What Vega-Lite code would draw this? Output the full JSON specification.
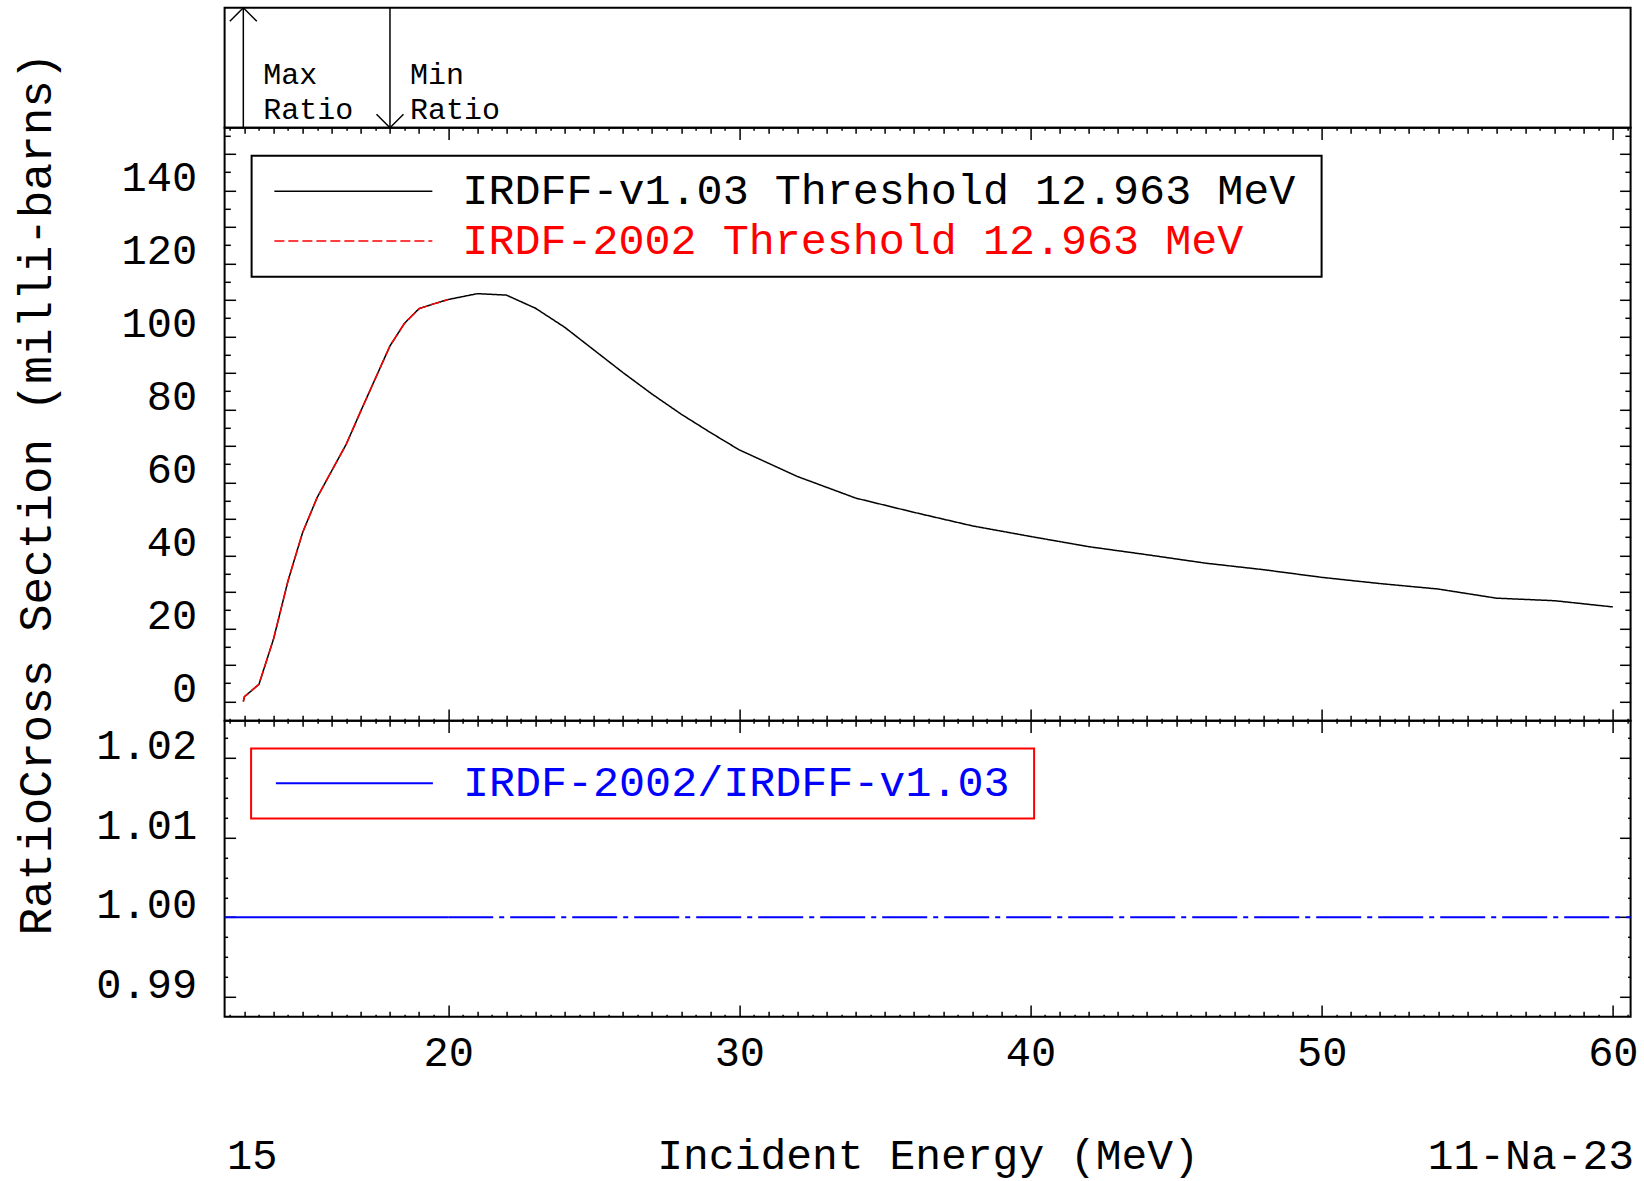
{
  "$schema": "https://vega.github.io/schema/vega-lite/v6.json",
  "padding": {"left": 11.6, "top": 3.8, "right": 10, "bottom": 12},
  "background": "white",
  "config": {
    "view": {"stroke": "black", "strokeWidth": 2},
    "font": "Liberation Mono",
    "axis": {"labelFont": "Liberation Mono", "titleFont": "Liberation Mono", "labelColor": "black", "titleColor": "black", "titleFontWeight": "normal", "grid": false, "tickColor": "black", "tickWidth": 1.5, "labelFlush": false, "labelOverlap": false},
    "legend": {"labelFont": "Liberation Mono", "strokeWidth": 2}
  },
  "datasets": {
    "arrows": [
      {"E": 12.963, "label": "Max\nRatio", "tip": "up"},
      {"E": 18, "label": "Min\nRatio", "tip": "down"}
    ],
    "irdff": [
      {"E": 12.963, "xs": 0, "series": "IRDFF-v1.03 Threshold 12.963 MeV"},
      {"E": 13.0, "xs": 1.3, "series": "IRDFF-v1.03 Threshold 12.963 MeV"},
      {"E": 13.5, "xs": 4.7, "series": "IRDFF-v1.03 Threshold 12.963 MeV"},
      {"E": 14.0, "xs": 17.1, "series": "IRDFF-v1.03 Threshold 12.963 MeV"},
      {"E": 14.5, "xs": 33.1, "series": "IRDFF-v1.03 Threshold 12.963 MeV"},
      {"E": 15.0, "xs": 46.3, "series": "IRDFF-v1.03 Threshold 12.963 MeV"},
      {"E": 15.5, "xs": 55.9, "series": "IRDFF-v1.03 Threshold 12.963 MeV"},
      {"E": 16.0, "xs": 63.2, "series": "IRDFF-v1.03 Threshold 12.963 MeV"},
      {"E": 16.5, "xs": 70.5, "series": "IRDFF-v1.03 Threshold 12.963 MeV"},
      {"E": 17.0, "xs": 79.6, "series": "IRDFF-v1.03 Threshold 12.963 MeV"},
      {"E": 17.5, "xs": 88.5, "series": "IRDFF-v1.03 Threshold 12.963 MeV"},
      {"E": 18.0, "xs": 97.4, "series": "IRDFF-v1.03 Threshold 12.963 MeV"},
      {"E": 18.5, "xs": 103.6, "series": "IRDFF-v1.03 Threshold 12.963 MeV"},
      {"E": 19.0, "xs": 107.6, "series": "IRDFF-v1.03 Threshold 12.963 MeV"},
      {"E": 19.5, "xs": 108.9, "series": "IRDFF-v1.03 Threshold 12.963 MeV"},
      {"E": 20.0, "xs": 110.1, "series": "IRDFF-v1.03 Threshold 12.963 MeV"},
      {"E": 21.0, "xs": 111.7, "series": "IRDFF-v1.03 Threshold 12.963 MeV"},
      {"E": 22.0, "xs": 111.3, "series": "IRDFF-v1.03 Threshold 12.963 MeV"},
      {"E": 23.0, "xs": 107.7, "series": "IRDFF-v1.03 Threshold 12.963 MeV"},
      {"E": 24.0, "xs": 102.5, "series": "IRDFF-v1.03 Threshold 12.963 MeV"},
      {"E": 25.0, "xs": 96.3, "series": "IRDFF-v1.03 Threshold 12.963 MeV"},
      {"E": 26.0, "xs": 90.1, "series": "IRDFF-v1.03 Threshold 12.963 MeV"},
      {"E": 27.0, "xs": 84.2, "series": "IRDFF-v1.03 Threshold 12.963 MeV"},
      {"E": 28.0, "xs": 78.7, "series": "IRDFF-v1.03 Threshold 12.963 MeV"},
      {"E": 29.0, "xs": 73.7, "series": "IRDFF-v1.03 Threshold 12.963 MeV"},
      {"E": 30.0, "xs": 68.9, "series": "IRDFF-v1.03 Threshold 12.963 MeV"},
      {"E": 32.0, "xs": 61.6, "series": "IRDFF-v1.03 Threshold 12.963 MeV"},
      {"E": 34.0, "xs": 55.7, "series": "IRDFF-v1.03 Threshold 12.963 MeV"},
      {"E": 36.0, "xs": 51.8, "series": "IRDFF-v1.03 Threshold 12.963 MeV"},
      {"E": 38.0, "xs": 48.1, "series": "IRDFF-v1.03 Threshold 12.963 MeV"},
      {"E": 40.0, "xs": 45.2, "series": "IRDFF-v1.03 Threshold 12.963 MeV"},
      {"E": 42.0, "xs": 42.4, "series": "IRDFF-v1.03 Threshold 12.963 MeV"},
      {"E": 44.0, "xs": 40.2, "series": "IRDFF-v1.03 Threshold 12.963 MeV"},
      {"E": 46.0, "xs": 37.9, "series": "IRDFF-v1.03 Threshold 12.963 MeV"},
      {"E": 48.0, "xs": 36.1, "series": "IRDFF-v1.03 Threshold 12.963 MeV"},
      {"E": 50.0, "xs": 34.0, "series": "IRDFF-v1.03 Threshold 12.963 MeV"},
      {"E": 52.0, "xs": 32.3, "series": "IRDFF-v1.03 Threshold 12.963 MeV"},
      {"E": 54.0, "xs": 30.8, "series": "IRDFF-v1.03 Threshold 12.963 MeV"},
      {"E": 56.0, "xs": 28.3, "series": "IRDFF-v1.03 Threshold 12.963 MeV"},
      {"E": 58.0, "xs": 27.6, "series": "IRDFF-v1.03 Threshold 12.963 MeV"},
      {"E": 60.0, "xs": 25.9, "series": "IRDFF-v1.03 Threshold 12.963 MeV"}
    ],
    "irdf2002": [
      {"E": 12.963, "xs": 0, "series": "IRDF-2002 Threshold 12.963 MeV"},
      {"E": 13.0, "xs": 1.3, "series": "IRDF-2002 Threshold 12.963 MeV"},
      {"E": 13.5, "xs": 4.7, "series": "IRDF-2002 Threshold 12.963 MeV"},
      {"E": 14.0, "xs": 17.1, "series": "IRDF-2002 Threshold 12.963 MeV"},
      {"E": 14.5, "xs": 33.1, "series": "IRDF-2002 Threshold 12.963 MeV"},
      {"E": 15.0, "xs": 46.3, "series": "IRDF-2002 Threshold 12.963 MeV"},
      {"E": 15.5, "xs": 55.9, "series": "IRDF-2002 Threshold 12.963 MeV"},
      {"E": 16.0, "xs": 63.2, "series": "IRDF-2002 Threshold 12.963 MeV"},
      {"E": 16.5, "xs": 70.5, "series": "IRDF-2002 Threshold 12.963 MeV"},
      {"E": 17.0, "xs": 79.6, "series": "IRDF-2002 Threshold 12.963 MeV"},
      {"E": 17.5, "xs": 88.5, "series": "IRDF-2002 Threshold 12.963 MeV"},
      {"E": 18.0, "xs": 97.4, "series": "IRDF-2002 Threshold 12.963 MeV"},
      {"E": 18.5, "xs": 103.6, "series": "IRDF-2002 Threshold 12.963 MeV"},
      {"E": 19.0, "xs": 107.6, "series": "IRDF-2002 Threshold 12.963 MeV"},
      {"E": 19.5, "xs": 108.9, "series": "IRDF-2002 Threshold 12.963 MeV"},
      {"E": 20.0, "xs": 110.1, "series": "IRDF-2002 Threshold 12.963 MeV"}
    ],
    "ratio1": [
      {"E": 12.32, "r": 1.0, "series": "IRDF-2002/IRDFF-v1.03"},
      {"E": 20.0, "r": 1.0, "series": "IRDF-2002/IRDFF-v1.03"}
    ],
    "ratio2": [
      {"E": 20.0, "r": 1.0, "series": "IRDF-2002/IRDFF-v1.03"},
      {"E": 60.61, "r": 1.0, "series": "IRDF-2002/IRDFF-v1.03"}
    ]
  },
  "spacing": 0,
  "bounds": "flush",
  "resolve": {"scale": {"x": "independent", "y": "independent", "color": "independent", "strokeDash": "independent"}},
  "vconcat": [
    {
      "width": 1406,
      "height": 120,
      "data": {"name": "arrows"},
      "layer": [
        {
          "mark": {"type": "rule", "color": "black", "strokeWidth": 1.5},
          "encoding": {
            "x": {"field": "E", "type": "quantitative", "scale": {"domain": [12.32, 60.61], "nice": false, "zero": false}, "axis": null},
            "y": {"datum": 0, "type": "quantitative", "scale": {"domain": [0, 1], "nice": false, "zero": false}, "axis": null},
            "y2": {"datum": 1}
          }
        },
        {
          "transform": [{"filter": "datum.tip == 'up'"}],
          "mark": {"type": "point", "shape": "M-1,1L0,0L1,1", "filled": false, "size": 729, "color": "black", "strokeWidth": 1.5, "opacity": 1},
          "encoding": {
            "x": {"field": "E", "type": "quantitative", "axis": null},
            "y": {"datum": 1, "type": "quantitative"}
          }
        },
        {
          "transform": [{"filter": "datum.tip == 'down'"}],
          "mark": {"type": "point", "shape": "M-1,-1L0,0L1,-1", "filled": false, "size": 729, "color": "black", "strokeWidth": 1.5, "opacity": 1},
          "encoding": {
            "x": {"field": "E", "type": "quantitative", "axis": null},
            "y": {"datum": 0, "type": "quantitative"}
          }
        },
        {
          "mark": {"type": "text", "align": "left", "baseline": "alphabetic", "dx": 20, "dy": -44.3, "font": "Liberation Mono", "fontSize": 30, "lineHeight": 35.3, "lineBreak": "\n", "color": "black"},
          "encoding": {
            "x": {"field": "E", "type": "quantitative", "axis": null},
            "y": {"datum": 0, "type": "quantitative"},
            "text": {"field": "label", "type": "nominal"}
          }
        }
      ]
    },
    {
      "width": 1406,
      "height": 593,
      "resolve": {"axis": {"x": "independent", "y": "independent"}},
      "layer": [
        {
          "data": {"name": "irdff"},
          "mark": {"type": "line", "strokeWidth": 1.5},
          "encoding": {
            "x": {"field": "E", "type": "quantitative", "scale": {"domain": [12.32, 60.61], "nice": false, "zero": false},
              "axis": {"orient": "bottom", "title": null, "labels": false, "domain": false, "values": [12.5,13,13.5,14,14.5,15,15.5,16,16.5,17,17.5,18,18.5,19,19.5,20,20.5,21,21.5,22,22.5,23,23.5,24,24.5,25,25.5,26,26.5,27,27.5,28,28.5,29,29.5,30,30.5,31,31.5,32,32.5,33,33.5,34,34.5,35,35.5,36,36.5,37,37.5,38,38.5,39,39.5,40,40.5,41,41.5,42,42.5,43,43.5,44,44.5,45,45.5,46,46.5,47,47.5,48,48.5,49,49.5,50,50.5,51,51.5,52,52.5,53,53.5,54,54.5,55,55.5,56,56.5,57,57.5,58,58.5,59,59.5,60,60.5],
                "tickSize": {"condition": [{"test": "datum.value % 10 == 0", "value": -11.7}, {"test": "datum.value % 1 == 0", "value": -5.5}], "value": -2.5}}},
            "y": {"field": "xs", "type": "quantitative", "scale": {"domain": [-5.29, 157.13], "nice": false, "zero": false},
              "axis": {"orient": "left", "title": null, "labels": false, "domain": false, "values": [0,5,10,15,20,25,30,35,40,45,50,55,60,65,70,75,80,85,90,95,100,105,110,115,120,125,130,135,140,145,150,155],
                "tickSize": {"condition": {"test": "datum.value % 10 == 0", "value": -11}, "value": -5.7}}},
            "color": {"field": "series", "type": "nominal",
              "scale": {"domain": ["IRDFF-v1.03 Threshold 12.963 MeV", "IRDF-2002 Threshold 12.963 MeV"], "range": ["#000000", "#ff0000"]},
              "legend": {"orient": "none", "legendX": 27, "legendY": 28, "title": " ", "titleOrient": "right", "titlePadding": 12, "titleFontSize": 1, "symbolType": "stroke", "symbolSize": 24964, "symbolStrokeWidth": 1.5, "symbolOffset": 7.75, "labelOffset": 29, "clipHeight": 43, "labelFont": "Liberation Mono", "labelFontSize": 43.4, "labelColor": {"expr": "datum.label == 'IRDF-2002 Threshold 12.963 MeV' ? '#ff0000' : '#000000'"}, "labelLimit": 2000, "padding": 14, "rowPadding": 5.7, "strokeColor": "black", "fillColor": "white"}},
            "strokeDash": {"field": "series", "type": "nominal",
              "scale": {"domain": ["IRDFF-v1.03 Threshold 12.963 MeV", "IRDF-2002 Threshold 12.963 MeV"], "range": [[1, 0], [10, 4]]},
              "legend": {"orient": "none", "legendX": 27, "legendY": 28, "title": " ", "titleOrient": "right", "titlePadding": 12, "titleFontSize": 1, "symbolType": "stroke", "symbolSize": 24964, "symbolStrokeWidth": 1.5, "symbolOffset": 7.75, "labelOffset": 29, "clipHeight": 43, "labelFont": "Liberation Mono", "labelFontSize": 43.4, "labelColor": {"expr": "datum.label == 'IRDF-2002 Threshold 12.963 MeV' ? '#ff0000' : '#000000'"}, "labelLimit": 2000, "padding": 14, "rowPadding": 5.7, "strokeColor": "black", "fillColor": "white"}}
          }
        },
        {
          "data": {"name": "irdf2002"},
          "mark": {"type": "line", "strokeWidth": 1.5},
          "encoding": {
            "x": {"field": "E", "type": "quantitative",
              "axis": {"orient": "top", "title": null, "labels": false, "domain": false, "values": [12.5,13,13.5,14,14.5,15,15.5,16,16.5,17,17.5,18,18.5,19,19.5,20,20.5,21,21.5,22,22.5,23,23.5,24,24.5,25,25.5,26,26.5,27,27.5,28,28.5,29,29.5,30,30.5,31,31.5,32,32.5,33,33.5,34,34.5,35,35.5,36,36.5,37,37.5,38,38.5,39,39.5,40,40.5,41,41.5,42,42.5,43,43.5,44,44.5,45,45.5,46,46.5,47,47.5,48,48.5,49,49.5,50,50.5,51,51.5,52,52.5,53,53.5,54,54.5,55,55.5,56,56.5,57,57.5,58,58.5,59,59.5,60,60.5],
                "tickSize": {"condition": [{"test": "datum.value % 10 == 0", "value": -11.7}, {"test": "datum.value % 1 == 0", "value": -5.5}], "value": -2.5}}},
            "y": {"field": "xs", "type": "quantitative",
              "axis": {"orient": "right", "title": null, "labels": false, "domain": false, "values": [0,5,10,15,20,25,30,35,40,45,50,55,60,65,70,75,80,85,90,95,100,105,110,115,120,125,130,135,140,145,150,155],
                "tickSize": {"condition": {"test": "datum.value % 10 == 0", "value": -11}, "value": -5.7}}},
            "color": {"field": "series", "type": "nominal"},
            "strokeDash": {"field": "series", "type": "nominal"}
          }
        },
        {
          "data": {"name": "irdff"},
          "mark": {"type": "point", "opacity": 0},
          "encoding": {
            "x": {"field": "E", "type": "quantitative", "axis": null},
            "y": {"field": "xs", "type": "quantitative",
              "axis": {"orient": "left", "values": [0,20,40,60,80,100,120,140], "ticks": false, "tickSize": 0, "domain": false, "labelFontSize": 42, "labelPadding": 28, "labelAlign": "right", "labelBaseline": "alphabetic", "labelOffset": 0.5,
                "title": "RatioCross Section (milli-barns)", "titleFontSize": 46, "titleAngle": 270, "titleX": -174.4, "titleY": 365.8, "titleAlign": "center", "titleBaseline": "alphabetic"}}
          }
        }
      ]
    },
    {
      "width": 1406,
      "height": 296,
      "resolve": {"axis": {"x": "independent", "y": "independent"}},
      "layer": [
        {
          "data": {"name": "ratio1"},
          "mark": {"type": "line", "strokeWidth": 2},
          "encoding": {
            "x": {"field": "E", "type": "quantitative", "scale": {"domain": [12.32, 60.61], "nice": false, "zero": false},
              "axis": {"orient": "bottom", "labels": false, "domain": false, "values": [12.5,13,13.5,14,14.5,15,15.5,16,16.5,17,17.5,18,18.5,19,19.5,20,20.5,21,21.5,22,22.5,23,23.5,24,24.5,25,25.5,26,26.5,27,27.5,28,28.5,29,29.5,30,30.5,31,31.5,32,32.5,33,33.5,34,34.5,35,35.5,36,36.5,37,37.5,38,38.5,39,39.5,40,40.5,41,41.5,42,42.5,43,43.5,44,44.5,45,45.5,46,46.5,47,47.5,48,48.5,49,49.5,50,50.5,51,51.5,52,52.5,53,53.5,54,54.5,55,55.5,56,56.5,57,57.5,58,58.5,59,59.5,60,60.5],
                "tickSize": {"condition": [{"test": "datum.value % 10 == 0", "value": -11.7}, {"test": "datum.value % 1 == 0", "value": -5.5}], "value": -2.5},
                "title": "15", "titleFontSize": 42, "titleX": 2, "titleY": 152, "titleAlign": "left", "titleBaseline": "alphabetic"}},
            "y": {"field": "r", "type": "quantitative", "scale": {"domain": [0.98749, 1.02467], "nice": false, "zero": false},
              "axis": {"orient": "left", "title": null, "labels": false, "domain": false, "values": [0.99,0.9925,0.995,0.9975,1.0,1.0025,1.005,1.0075,1.01,1.0125,1.015,1.0175,1.02,1.0225],
                "tickSize": {"condition": {"test": "abs(datum.value*100 - round(datum.value*100)) < 0.001", "value": -11}, "value": -3}}},
            "color": {"field": "series", "type": "nominal",
              "scale": {"domain": ["IRDF-2002/IRDFF-v1.03"], "range": ["#0000ff"]},
              "legend": {"orient": "none", "legendX": 26.5, "legendY": 27.7, "title": " ", "titleOrient": "right", "titlePadding": 11, "titleFontSize": 1, "symbolType": "stroke", "symbolSize": 24649, "symbolStrokeWidth": 2, "symbolOffset": 10.5, "labelOffset": 29, "clipHeight": 43, "labelFont": "Liberation Mono", "labelFontSize": 43.4, "labelColor": "#0000ff", "labelLimit": 2000, "padding": 13.3, "strokeColor": "#ff0000", "fillColor": "white"}}
          }
        },
        {
          "data": {"name": "ratio2"},
          "mark": {"type": "line", "strokeWidth": 2, "strokeDash": [45, 6, 5, 6]},
          "encoding": {
            "x": {"field": "E", "type": "quantitative",
              "axis": {"orient": "top", "labels": false, "domain": false, "values": [12.5,13,13.5,14,14.5,15,15.5,16,16.5,17,17.5,18,18.5,19,19.5,20,20.5,21,21.5,22,22.5,23,23.5,24,24.5,25,25.5,26,26.5,27,27.5,28,28.5,29,29.5,30,30.5,31,31.5,32,32.5,33,33.5,34,34.5,35,35.5,36,36.5,37,37.5,38,38.5,39,39.5,40,40.5,41,41.5,42,42.5,43,43.5,44,44.5,45,45.5,46,46.5,47,47.5,48,48.5,49,49.5,50,50.5,51,51.5,52,52.5,53,53.5,54,54.5,55,55.5,56,56.5,57,57.5,58,58.5,59,59.5,60,60.5],
                "tickSize": {"condition": [{"test": "datum.value % 10 == 0", "value": -11.7}, {"test": "datum.value % 1 == 0", "value": -5.5}], "value": -2.5},
                "title": "11-Na-23", "titleFontSize": 43, "titleX": 1409, "titleY": 448, "titleAlign": "right", "titleBaseline": "alphabetic"}},
            "y": {"field": "r", "type": "quantitative",
              "axis": {"orient": "right", "title": null, "labels": false, "domain": false, "values": [0.99,0.9925,0.995,0.9975,1.0,1.0025,1.005,1.0075,1.01,1.0125,1.015,1.0175,1.02,1.0225],
                "tickSize": {"condition": {"test": "abs(datum.value*100 - round(datum.value*100)) < 0.001", "value": -11}, "value": -3}}},
            "color": {"field": "series", "type": "nominal"}
          }
        },
        {
          "data": {"name": "ratio1"},
          "mark": {"type": "point", "opacity": 0},
          "encoding": {
            "x": {"field": "E", "type": "quantitative",
              "axis": {"orient": "bottom", "values": [20, 30, 40, 50, 60], "ticks": false, "tickSize": 0, "domain": false, "labelFontSize": 42, "labelPadding": 49, "labelBaseline": "alphabetic", "labelAlign": "center",
                "title": "Incident Energy (MeV)", "titleFontSize": 43, "titleX": 703, "titleY": 152, "titleAlign": "center", "titleBaseline": "alphabetic"}},
            "y": {"field": "r", "type": "quantitative",
              "axis": {"orient": "left", "values": [0.99, 1.0, 1.01, 1.02], "format": ".2f", "ticks": false, "tickSize": 0, "domain": false, "labelFontSize": 42, "labelPadding": 28, "labelAlign": "right", "labelBaseline": "alphabetic", "labelOffset": 0.5, "title": null}}
          }
        }
      ]
    }
  ]
}
